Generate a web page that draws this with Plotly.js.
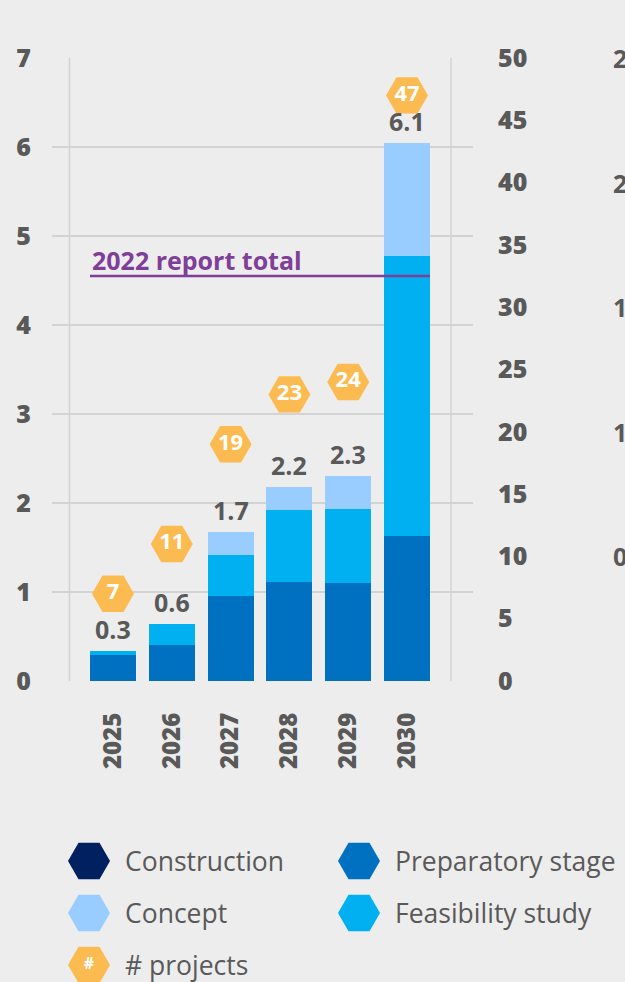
<!DOCTYPE html>
<html>
<head>
<meta charset="utf-8">
<script src="https://cdn.plot.ly/plotly-3.0.1.min.js"></script>
<style>
  html, body { margin: 0; padding: 0; background: #ededed; }
  #chart { width: 625px; height: 982px; }
</style>
</head>
<body>
<div id="chart"></div>
<script>
// ---- data ----
const years = ['2025', '2026', '2027', '2028', '2029', '2030'];
const construction = [0, 0, 0, 0, 0, 0];
const preparatory = [0.29, 0.40, 0.96, 1.11, 1.10, 1.63];
const feasibility = [0.05, 0.24, 0.46, 0.81, 0.83, 3.15];
const concept = [0, 0, 0.25, 0.26, 0.37, 1.27];
const totalLabels = ['0.3', '0.6', '1.7', '2.2', '2.3', '6.1'];
const projects = [7, 11, 19, 23, 24, 47];
const report2022Total = 4.55;
const report2022Label = '2022 report total';
const legendNames = ['Construction', 'Preparatory stage', 'Concept', 'Feasibility study', '# projects'];
const cutoffLabels = ['2.5', '2.0', '1.5', '1.0', '0.5'];

// ---- styles ----
const W = 625, H = 982;
const FONT = '"Open Sans", Lato, sans-serif';
const GREY = '#595959';
const GRID = '#d3d3d3';
const colors = {
  construction: '#002060',
  preparatory: '#0070c0',
  feasibility: '#00b0f0',
  concept: '#99ccff',
  projects: '#fbbb50',
  report: '#7f3f98'
};
const plotL = 52, plotR = 473, plotT = 58, plotB = 681;
const bargap = 0.218;
const half = (1 - bargap) / 2;

const totals = years.map((_, i) => construction[i] + preparatory[i] + feasibility[i] + concept[i]);

function barTrace(name, vals, color) {
  return { type: 'bar', name: name, x: years, y: vals, marker: { color: color },
           hoverinfo: 'x+y+name', showlegend: false, xaxis: 'x', yaxis: 'y' };
}

const traces = [
  barTrace('Construction', construction, colors.construction),
  barTrace('Preparatory stage', preparatory, colors.preparatory),
  barTrace('Feasibility study', feasibility, colors.feasibility),
  barTrace('Concept', concept, colors.concept),
  {
    type: 'scatter', mode: 'markers+text', name: '# projects',
    x: years, y: projects, yaxis: 'y2', xaxis: 'x',
    text: projects.map(v => '<b>' + v + '</b>'), textposition: 'middle center',
    textfont: { family: FONT, size: 22, color: '#ffffff', weight: 800 },
    marker: { symbol: 'hexagon2', size: 42, color: colors.projects, line: { width: 0 } },
    cliponaxis: false, showlegend: false
  }
];

// custom legend (hexagon markers) on a full-page pixel overlay axis
const legendColors = [colors.construction, colors.preparatory, colors.concept, colors.feasibility, colors.projects];
const legX = [], legY = [];
legendNames.forEach((n, i) => {
  legX.push(i % 2 === 0 ? 89 : 359);
  legY.push(861 + 52 * Math.floor(i / 2));
});
traces.push({
  type: 'scatter', mode: 'markers+text', x: legX, y: legY, xaxis: 'x3', yaxis: 'y3',
  text: legendNames.map(n => n === '# projects' ? '<b>#</b>' : ''), textposition: 'middle center',
  textfont: { family: FONT, size: 16, color: '#ffffff', weight: 800 },
  marker: { symbol: 'hexagon2', size: 42, color: legendColors, line: { width: 0 } },
  hoverinfo: 'skip', showlegend: false, cliponaxis: false
});

const annotations = [];
// total labels above bars (x given as category index)
years.forEach((yr, i) => {
  annotations.push({
    x: i, y: totals[i], xref: 'x', yref: 'y', text: '<b>' + totalLabels[i] + '</b>',
    showarrow: false, xanchor: 'center', yanchor: 'bottom', yshift: 3,
    font: { family: FONT, size: 25, color: GREY, weight: 800 }
  });
});
// 2022 report total label
annotations.push({
  x: -half, y: report2022Total, xref: 'x', yref: 'y', text: '<b>' + report2022Label + '</b>',
  showarrow: false, xanchor: 'left', yanchor: 'bottom', yshift: -3,
  font: { family: FONT, size: 25, color: colors.report, weight: 800 }
});
// legend labels
legendNames.forEach((n, i) => {
  annotations.push({
    x: legX[i] + 34, y: legY[i], xref: 'x3', yref: 'y3', text: n,
    showarrow: false, xanchor: 'left', yanchor: 'middle',
    font: { family: FONT, size: 26.5, color: GREY }
  });
});
// cut-off axis labels of the neighbouring chart
cutoffLabels.forEach((t, i) => {
  annotations.push({
    x: 611, y: 50 - 10 * i, xref: 'x3', yref: 'y2', text: '<b>' + t + '</b>',
    showarrow: false, xanchor: 'left', yanchor: 'middle',
    font: { family: FONT, size: 25, color: GREY, weight: 800 }
  });
});

const shapes = [
  { type: 'line', xref: 'x domain', yref: 'y domain', x0: (69.5 - plotL) / (plotR - plotL), x1: (69.5 - plotL) / (plotR - plotL), y0: 0, y1: 1, line: { color: GRID, width: 1.5 }, layer: 'below' },
  { type: 'line', xref: 'x domain', yref: 'y domain', x0: (451 - plotL) / (plotR - plotL), x1: (451 - plotL) / (plotR - plotL), y0: 0, y1: 1, line: { color: GRID, width: 1.5 }, layer: 'below' },
  { type: 'line', xref: 'x', yref: 'y', x0: -half, x1: years.length - 1 + half, y0: report2022Total, y1: report2022Total, line: { color: colors.report, width: 2.5 } }
];

const tickFont = { family: FONT, size: 25, color: GREY, weight: 800 };

const layout = {
  width: W, height: H,
  paper_bgcolor: '#ededed', plot_bgcolor: 'rgba(0,0,0,0)',
  margin: { l: 0, r: 0, t: 0, b: 0, pad: 0 },
  barmode: 'stack', bargap: bargap,
  showlegend: false,
  font: { family: FONT, color: GREY },
  xaxis: {
    domain: [plotL / W, plotR / W], type: 'category', range: [-1.037, 6.122],
    tickangle: -90, ticks: '', showgrid: false, zeroline: false, showline: false,
    tickfont: { family: FONT, size: 24, color: GREY, weight: 800 },
    ticklabelstandoff: 26, fixedrange: true
  },
  yaxis: {
    domain: [(H - plotB) / H, (H - plotT) / H], range: [0, 7], dtick: 1, tick0: 0,
    showgrid: true, gridcolor: GRID, gridwidth: 1.5, zeroline: false, showline: false,
    ticks: '', tickfont: tickFont,
    ticklabelstandoff: 20, fixedrange: true
  },
  yaxis2: {
    overlaying: 'y', side: 'right', range: [0, 50], dtick: 5, tick0: 0,
    showgrid: false, zeroline: false, showline: false, ticks: '',
    tickfont: tickFont,
    ticklabelstandoff: 24, fixedrange: true
  },
  xaxis3: { domain: [0, 1], range: [0, W], visible: false, fixedrange: true, anchor: 'y3' },
  yaxis3: { domain: [0, 1], range: [H, 0], visible: false, fixedrange: true, anchor: 'x3' },
  annotations: annotations,
  shapes: shapes
};

Plotly.newPlot('chart', traces, layout, { displayModeBar: false, staticPlot: true });
</script>
</body>
</html>
